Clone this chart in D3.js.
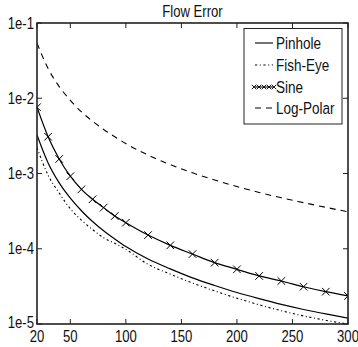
<!DOCTYPE html>
<html><head><meta charset="utf-8">
<script src="https://cdn.jsdelivr.net/npm/d3@7"></script>
<style>
html,body{margin:0;padding:0;background:#fff;}
text{font-family:"Liberation Sans",Arial,sans-serif;fill:#111;}
</style></head>
<body><svg id="c" width="358" height="347"></svg>
<script>
const title = "Flow Error";
const xValues = [20,30,40,50,60,70,80,90,100,120,140,160,180,200,220,240,260,280,300];
const pinhole = [3.25e-3,1.38e-3,7.5e-4,4.7e-4,3.2e-4,2.3e-4,1.73e-4,1.35e-4,1.07e-4,7.3e-5,5.4e-5,4.1e-5,3.25e-5,2.62e-5,2.17e-5,1.82e-5,1.56e-5,1.36e-5,1.2e-5];
const fishEye = [2.2e-3,9.5e-4,5.5e-4,3.4e-4,2.4e-4,1.8e-4,1.4e-4,1.18e-4,9.8e-5,6.2e-5,4.6e-5,3.5e-5,2.75e-5,2.2e-5,1.8e-5,1.5e-5,1.28e-5,1.12e-5,1.0e-5];
const sine = [7.6e-3,3.08e-3,1.56e-3,9.2e-4,6.16e-4,4.54e-4,3.52e-4,2.72e-4,2.22e-4,1.52e-4,1.11e-4,8.5e-5,6.53e-5,5.33e-5,4.35e-5,3.73e-5,3.13e-5,2.69e-5,2.36e-5];
const logPolar = [5.4e-2,2.48e-2,1.43e-2,9.4e-3,6.6e-3,4.95e-3,3.85e-3,3.08e-3,2.5e-3,1.76e-3,1.31e-3,1.02e-3,8.2e-4,6.7e-4,5.6e-4,4.75e-4,4.1e-4,3.55e-4,3.1e-4];
const xTicks = [20,50,100,150,200,250,300];
const yTicks = [1e-1,1e-2,1e-3,1e-4,1e-5];
const yTickLabels = ["1e-1","1e-2","1e-3","1e-4","1e-5"];
const seriesNames = ["Pinhole","Fish-Eye","Sine","Log-Polar"];

const svg = d3.select("#c");
const L=37, R=348, T=23, B=324;
const x = d3.scaleLinear().domain([20,300]).range([L,R]);
const y = d3.scaleLog().domain([1e-5,1e-1]).range([B,T]);
const NARROW = 0.82;
function label(parent, px, py, str, size, anchor){
  return parent.append("text")
    .attr("transform",`translate(${px},${py}) scale(${NARROW},1)`)
    .attr("text-anchor",anchor).attr("font-size",size).text(str);
}

svg.append("defs").append("clipPath").attr("id","clip")
  .append("rect").attr("x",L).attr("y",T).attr("width",R-L).attr("height",B-T);

const series = [
  {name:seriesNames[0], v:pinhole, dash:null, marker:false},
  {name:seriesNames[1], v:fishEye, dash:"2.2,2.6,1,2.6", marker:false},
  {name:seriesNames[2], v:sine, dash:null, marker:true},
  {name:seriesNames[3], v:logPolar, dash:"6,5", marker:false}
];
const line = d3.line().x(d=>x(d[0])).y(d=>y(d[1])).curve(d3.curveMonotoneX);
const g = svg.append("g").attr("clip-path","url(#clip)");
series.forEach(s=>{
  const pts = xValues.map((xv,i)=>[xv,s.v[i]]);
  g.append("path").datum(pts).attr("d",line).attr("fill","none")
   .attr("stroke","#000").attr("stroke-width",s.dash?1.1:1.2)
   .attr("stroke-dasharray",s.dash);
  if(s.marker){
    g.selectAll(null).data(pts).enter().append("path")
     .attr("d",d=>{const cx=x(d[0]),cy=y(d[1]),r=3.8;
       return `M${cx-r},${cy-r}L${cx+r},${cy+r}M${cx-r},${cy+r}L${cx+r},${cy-r}`;})
     .attr("stroke","#000").attr("stroke-width",1).attr("fill","none");
  }
});

// axes with inward ticks on all four sides
const tl=5;
const ax = svg.append("g").attr("stroke","#222").attr("stroke-width",1);
xTicks.forEach(t=>{
  ax.append("line").attr("x1",x(t)).attr("x2",x(t)).attr("y1",B).attr("y2",B-tl);
  ax.append("line").attr("x1",x(t)).attr("x2",x(t)).attr("y1",T).attr("y2",T+tl);
});
yTicks.forEach(t=>{
  ax.append("line").attr("x1",L).attr("x2",L+tl).attr("y1",y(t)).attr("y2",y(t));
  ax.append("line").attr("x1",R).attr("x2",R-tl).attr("y1",y(t)).attr("y2",y(t));
});
svg.append("rect").attr("x",L).attr("y",T).attr("width",R-L).attr("height",B-T)
  .attr("fill","none").attr("stroke","#222").attr("stroke-width",1.6);

xTicks.forEach(t=>label(svg, x(t), 342, String(t), 16, "middle"));
yTicks.forEach((t,i)=>label(svg, 34, y(t)+(i===yTicks.length-1?4.3:5.5), yTickLabels[i], 16, "end"));
label(svg, (L+R)/2, 17, title, 16, "middle");

// legend
const lg = svg.append("g");
lg.append("rect").attr("x",244).attr("y",28.5).attr("width",98).attr("height",95.5)
  .attr("fill","#fff").attr("stroke","#222").attr("stroke-width",1);
const ly = [43,65,87,108];
series.forEach((s,i)=>{
  lg.append("line").attr("x1",255).attr("x2",273).attr("y1",ly[i]).attr("y2",ly[i])
    .attr("stroke","#000").attr("stroke-width",1.1).attr("stroke-dasharray",s.dash);
  if(s.marker){
    [254,259,264,269,274].forEach(cx=>{
      const r=2.2;
      lg.append("path").attr("d",`M${cx-r},${ly[i]-r}L${cx+r},${ly[i]+r}M${cx-r},${ly[i]+r}L${cx+r},${ly[i]-r}`)
        .attr("stroke","#000").attr("stroke-width",0.9);
    });
  }
  label(lg, 276, ly[i]+6, s.name, 16.5, "start");
});
</script></body></html>
